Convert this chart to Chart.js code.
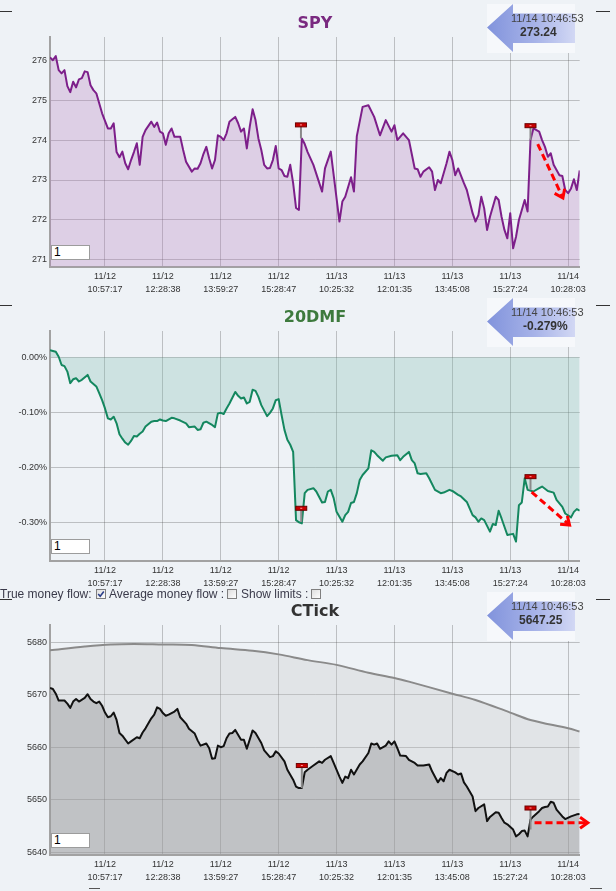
<!DOCTYPE html>
<html><head><meta charset="utf-8">
<script src="https://cdn.jsdelivr.net/npm/chart.js@4.4.1/dist/chart.umd.min.js"></script>
<style>
html,body{margin:0;padding:0;background:#eef2f6;width:616px;height:891px;overflow:hidden;font-family:"Liberation Sans",Arial,sans-serif;}
.panel{position:absolute;left:0;width:616px;height:300px;}
.panel canvas{position:absolute;left:0;top:0;}
.title{position:absolute;left:50px;width:530px;text-align:center;font:bold 16px "DejaVu Sans";line-height:20px;}
.dash{position:absolute;height:1px;background:#333;}
.box1{position:absolute;left:51px;width:39px;height:15px;background:#fff;border:1px solid #9c9c9c;box-sizing:border-box;font:12px "Liberation Sans";line-height:13px;padding-left:2px;color:#000;}
.callout{position:absolute;left:487px;width:88px;height:49px;}
.callout svg{position:absolute;left:0;top:0;}
.c1{position:absolute;left:24px;top:8px;font:11px "Liberation Sans";color:#444;white-space:nowrap;}
.c2{position:absolute;top:21px;font:bold 12px "Liberation Sans";color:#333;white-space:nowrap;}
.opt{position:absolute;top:587px;font:12px "Liberation Sans";line-height:14px;color:#3a3a4a;white-space:nowrap;}
.cb{position:absolute;top:589px;}
</style></head>
<body>
<svg width="0" height="0" style="position:absolute">
<defs>
<linearGradient id="arrowGrad" x1="0" x2="1" y1="0" y2="0">
<stop offset="0" stop-color="#8193dc"/><stop offset="0.55" stop-color="#a7b3e8"/><stop offset="1" stop-color="#d2d8f4"/>
</linearGradient>
<linearGradient id="cbGrad" x1="0" x2="1" y1="0" y2="1">
<stop offset="0" stop-color="#dcdcdc"/><stop offset="1" stop-color="#ffffff"/>
</linearGradient>
</defs></svg>

<div class="panel" style="top:0px">
  <canvas id="c1" width="616" height="300"></canvas>
  <div class="title" style="top:13px;color:#7a2a80">SPY</div>
  <div class="dash" style="left:0;top:11px;width:12px"></div>
  <div class="dash" style="left:596px;top:11px;width:14px"></div>
  <div class="callout" style="top:4px">
    <svg width="88" height="49"><rect width="88" height="49" fill="#f6f8fb"/><polygon points="0,23.5 26,0 26,9.5 88,9.5 88,39 26,39 26,48" fill="url(#arrowGrad)"/></svg>
    <span class="c1">11/14 10:46:53</span><span class="c2" style="left:33px">273.24</span>
  </div>
  <div class="box1" style="top:245px">1</div>
</div>

<div class="panel" style="top:294px">
  <canvas id="c2" width="616" height="300"></canvas>
  <div class="title" style="top:13px;color:#3d7a3d">20DMF</div>
  <div class="dash" style="left:0;top:11px;width:12px"></div>
  <div class="dash" style="left:596px;top:11px;width:14px"></div>
  <div class="callout" style="top:4px">
    <svg width="88" height="49"><rect width="88" height="49" fill="#f6f8fb"/><polygon points="0,23.5 26,0 26,9.5 88,9.5 88,39 26,39 26,48" fill="url(#arrowGrad)"/></svg>
    <span class="c1">11/14 10:46:53</span><span class="c2" style="left:36px">-0.279%</span>
  </div>
  <div class="box1" style="top:245px">1</div>
</div>

<div class="opt" style="left:0px">True money flow:</div>
<svg class="cb" style="left:96px" width="10" height="10"><rect x="0.5" y="0.5" width="9" height="9" fill="url(#cbGrad)" stroke="#7f7f7f"/><path d="M2.2,5 L4.2,7.2 L7.8,2.6" stroke="#2b3f8a" stroke-width="1.6" fill="none"/></svg>
<div class="opt" style="left:109px">Average money flow :</div>
<svg class="cb" style="left:227px" width="10" height="10"><rect x="0.5" y="0.5" width="9" height="9" fill="url(#cbGrad)" stroke="#7f7f7f"/></svg>
<div class="opt" style="left:241px">Show limits :</div>
<svg class="cb" style="left:311px" width="10" height="10"><rect x="0.5" y="0.5" width="9" height="9" fill="url(#cbGrad)" stroke="#7f7f7f"/></svg>

<div class="panel" style="top:588px">
  <canvas id="c3" width="616" height="300"></canvas>
  <div class="title" style="top:13px;color:#333">CTick</div>
  <div class="dash" style="left:0;top:11px;width:12px"></div>
  <div class="dash" style="left:596px;top:11px;width:14px"></div>
  <div class="callout" style="top:4px">
    <svg width="88" height="49"><rect width="88" height="49" fill="#f6f8fb"/><polygon points="0,23.5 26,0 26,9.5 88,9.5 88,39 26,39 26,48" fill="url(#arrowGrad)"/></svg>
    <span class="c1">11/14 10:46:53</span><span class="c2" style="left:32px">5647.25</span>
  </div>
  <div class="box1" style="top:245px">1</div>
</div>
<div class="dash" style="left:89px;top:888px;width:11px;background:#555"></div>
<div class="dash" style="left:590px;top:888px;width:12px;background:#555"></div>

<script>
// ---- shared x axis (bar index) ----
const tickPos   = [19, 39, 59, 79, 99, 119, 139, 159, 179];
const tickDates = ["11/12","11/12","11/12","11/12","11/13","11/13","11/13","11/13","11/14"];
const tickTimes = ["10:57:17","12:28:38","13:59:27","15:28:47","10:25:32","12:01:35","13:45:08","15:27:24","10:28:03"];
const barMax = 183;

// ---- SPY ----
const spyTicks = [271, 272, 273, 274, 275, 276];
const spyPoints = [[0,276.07],[1,276.0],[2,276.1],[3,275.75],[4,275.67],[5,275.75],[6,275.35],[7,275.2],[8,275.46],[9,275.32],[10,275.52],[11,275.55],[12,275.72],[13,275.7],[14,275.37],[15,275.25],[16,275.17],[17,274.92],[18,274.67],[20,274.29],[21,274.29],[22,274.42],[23,273.7],[24,273.57],[25,273.71],[26,273.42],[27,273.27],[28,273.5],[29,273.7],[30,273.92],[31,273.38],[32,274.08],[33,274.25],[35,274.46],[36,274.33],[37,274.44],[38,274.21],[39,274.17],[40,273.88],[41,274.17],[42,274.29],[43,274.08],[45,274.08],[46,273.75],[47,273.46],[49,273.21],[50,273.29],[51,273.28],[52,273.42],[53,273.65],[54,273.83],[55,273.54],[56,273.29],[57,273.5],[58,274.12],[59,274.08],[60,274.0],[61,274.17],[62,274.46],[63,274.52],[64,274.58],[65,274.42],[66,274.21],[67,274.29],[68,273.79],[69,274.33],[70,274.77],[71,274.5],[72,274.04],[73,273.75],[74,273.38],[75,273.29],[76,273.3],[77,273.5],[78,273.85],[79,273.29],[80,273.25],[81,273.1],[82,273.08],[83,273.38],[84,272.92],[85,272.3],[86,272.25],[87,274.04],[88,273.9],[89,273.7],[91,273.38],[94,272.71],[95,273.29],[97,273.71],[100,271.96],[101,272.46],[102,272.58],[104,273.07],[105,272.71],[106,274.1],[108,274.83],[110,274.87],[112,274.58],[114,274.12],[116,274.5],[118,274.21],[119,274.37],[120,274.0],[122,274.17],[124,274.0],[126,273.29],[127,273.27],[128,273.08],[129,273.21],[131,273.32],[132,273.21],[133,272.75],[134,273.0],[135,272.92],[137,273.42],[138,273.71],[139,273.5],[140,273.12],[141,273.29],[143,272.92],[144,272.75],[146,272.17],[147,271.96],[148,272.12],[149,272.58],[150,272.29],[151,271.75],[152,272.08],[154,272.58],[155,272.5],[156,272.08],[157,271.75],[158,271.54],[159,272.17],[160,271.29],[161,271.58],[162,272.0],[164,272.5],[165,272.21],[166,274.0],[167,274.29],[169,274.21],[170,274.0],[171,273.83],[172,273.58],[173,273.67],[174,273.38],[176,273.12],[177,273.1],[178,272.75],[179,272.67],[180,272.79],[181,273.02],[182,272.75],[183,273.24]];
const spyFlags  = [[86.7,274.38,274.04],[166.0,274.36,274.0]];      // bar, flag value, stem foot value
const spyArrow  = [[168.5,273.9,177.2,272.55]];                     // from bar/value to bar/value

// ---- 20DMF (percent) ----
const dmfTicks = [0, -0.1, -0.2, -0.3];
const dmfPoints = [[0,0.013],[2,0.010],[3,0.001],[4,-0.014],[5,-0.016],[6,-0.026],[7,-0.047],[8,-0.040],[9,-0.038],[10,-0.044],[11,-0.041],[13,-0.032],[14,-0.044],[16,-0.053],[17,-0.065],[18,-0.078],[19,-0.093],[20,-0.111],[21,-0.113],[22,-0.108],[23,-0.120],[24,-0.140],[25,-0.148],[26,-0.155],[27,-0.159],[28,-0.152],[29,-0.143],[30,-0.144],[31,-0.139],[32,-0.135],[33,-0.126],[35,-0.117],[36,-0.116],[37,-0.116],[38,-0.113],[39,-0.115],[40,-0.116],[42,-0.110],[43,-0.111],[45,-0.115],[47,-0.120],[48,-0.127],[50,-0.126],[51,-0.132],[52,-0.131],[53,-0.119],[54,-0.117],[56,-0.123],[57,-0.127],[58,-0.102],[59,-0.101],[60,-0.103],[61,-0.093],[62,-0.084],[64,-0.063],[65,-0.070],[66,-0.075],[67,-0.073],[68,-0.084],[69,-0.081],[70,-0.059],[71,-0.061],[72,-0.072],[73,-0.087],[75,-0.107],[76,-0.101],[77,-0.093],[78,-0.078],[79,-0.076],[80,-0.105],[81,-0.132],[82,-0.150],[83,-0.159],[84,-0.172],[85,-0.296],[86,-0.300],[87,-0.302],[88,-0.247],[89,-0.241],[91,-0.238],[92,-0.244],[94,-0.264],[95,-0.263],[96,-0.244],[97,-0.241],[98,-0.256],[99,-0.281],[101,-0.299],[102,-0.287],[103,-0.281],[104,-0.265],[105,-0.263],[106,-0.247],[107,-0.223],[108,-0.214],[110,-0.202],[111,-0.169],[112,-0.172],[113,-0.178],[115,-0.188],[116,-0.182],[118,-0.179],[120,-0.178],[121,-0.187],[122,-0.181],[124,-0.172],[125,-0.187],[126,-0.193],[127,-0.211],[128,-0.212],[130,-0.211],[131,-0.220],[133,-0.241],[135,-0.247],[136,-0.246],[138,-0.241],[139,-0.243],[141,-0.250],[142,-0.253],[144,-0.263],[146,-0.287],[147,-0.291],[148,-0.299],[149,-0.293],[150,-0.296],[152,-0.317],[153,-0.303],[154,-0.305],[155,-0.279],[156,-0.293],[158,-0.323],[160,-0.321],[161,-0.335],[162,-0.269],[163,-0.264],[164,-0.220],[165,-0.241],[167,-0.244],[169,-0.238],[170,-0.235],[172,-0.243],[174,-0.246],[175,-0.259],[177,-0.272],[178,-0.284],[180,-0.291],[181,-0.281],[182,-0.276],[183,-0.279]];
const dmfFlags = [[86.8,-0.2745,-0.2995],[166.0,-0.217,-0.241]];
const dmfArrow = [[166.4,-0.245,179.5,-0.305]];

// ---- CTick ----
const ctTicks = [5640, 5650, 5660, 5670, 5680];
const ctPoints = [[0,5671.3],[1,5671.1],[2,5670.2],[3,5668.9],[5,5668.9],[6,5668.3],[7,5667.5],[8,5668.7],[9,5669.2],[10,5668.7],[12,5669.4],[13,5670.1],[14,5669.2],[15,5668.7],[16,5668.4],[17,5668.7],[18,5667.9],[19,5666.6],[20,5665.7],[21,5665.9],[22,5666.6],[23,5665.2],[24,5662.7],[25,5662.2],[27,5660.7],[28,5661.1],[30,5661.9],[31,5661.7],[32,5662.8],[33,5663.6],[35,5665.5],[36,5666.2],[37,5667.6],[38,5667.3],[39,5666.5],[40,5666.0],[41,5666.2],[43,5666.8],[44,5667.3],[45,5665.7],[47,5664.5],[48,5663.5],[50,5662.6],[51,5661.3],[52,5660.3],[54,5660.7],[55,5659.8],[56,5657.8],[57,5657.9],[58,5660.3],[59,5660.0],[60,5660.2],[61,5661.7],[62,5662.6],[63,5662.7],[64,5663.3],[66,5661.4],[67,5661.4],[68,5659.7],[70,5663.2],[71,5662.7],[73,5660.8],[74,5659.4],[76,5658.1],[77,5658.3],[78,5659.2],[79,5658.8],[81,5657.3],[82,5655.7],[84,5653.8],[85,5652.5],[86,5652.2],[87,5652.2],[88,5655.2],[89,5655.7],[91,5656.5],[93,5657.3],[94,5657.0],[95,5657.6],[97,5658.3],[98,5657.0],[100,5654.4],[101,5653.2],[102,5654.4],[103,5654.1],[104,5655.7],[105,5654.8],[107,5656.7],[108,5657.3],[110,5658.9],[111,5660.7],[112,5660.5],[113,5660.7],[114,5659.7],[116,5660.3],[117,5661.1],[118,5660.5],[119,5661.1],[120,5659.8],[121,5658.4],[123,5658.3],[124,5657.6],[126,5657.0],[127,5656.5],[129,5656.5],[131,5656.7],[132,5655.4],[134,5653.3],[135,5654.1],[136,5653.5],[137,5655.1],[138,5655.7],[140,5655.2],[141,5654.8],[142,5655.0],[143,5653.3],[144,5652.5],[146,5650.6],[147,5647.8],[148,5648.4],[150,5649.1],[151,5645.9],[152,5646.7],[154,5647.6],[155,5647.5],[156,5646.5],[157,5645.6],[158,5645.3],[160,5644.3],[161,5643.0],[162,5643.4],[163,5644.0],[164,5644.1],[165,5643.0],[166,5646.2],[167,5646.8],[169,5647.8],[170,5648.4],[171,5648.6],[172,5648.7],[173,5649.6],[174,5649.4],[175,5648.1],[177,5646.8],[178,5646.3],[180,5646.8],[182,5647.2],[183,5647.25]];
const ctAvgPoints = [[0,5678.5],[12,5679.2],[21,5679.6],[29,5679.7],[39,5679.6],[49,5679.5],[59,5678.9],[70,5678.4],[79,5677.7],[89,5676.6],[99,5675.7],[110,5674.2],[119,5673.2],[124,5672.5],[139,5670.2],[147,5669.0],[159,5666.6],[166,5665.2],[179,5663.6],[183,5663.0]];
const ctFlags = [[87.0,5656.5,5652.2],[166.0,5648.4,5644.3]];
const ctArrow = [[167.4,5645.6,185.8,5645.6]];

const toXY = pts => pts.map(p => ({x: p[0], y: p[1]}));

function marksPlugin(flags, arrows) {
  return {
    id: 'marks',
    afterDatasetsDraw(chart) {
      const ctx = chart.ctx, xs = chart.scales.x, ys = chart.scales.y;
      ctx.save();
      flags.forEach(f => {
        const px = xs.getPixelForValue(f[0]), pt = ys.getPixelForValue(f[1]), pb = ys.getPixelForValue(f[2]);
        ctx.strokeStyle = '#8a8a8a'; ctx.lineWidth = 2;
        ctx.beginPath(); ctx.moveTo(px, pt); ctx.lineTo(px, pb); ctx.stroke();
        ctx.fillStyle = '#c80000'; ctx.fillRect(px - 5.5, pt - 2, 11, 4);
        ctx.strokeStyle = '#6e0000'; ctx.lineWidth = 1; ctx.strokeRect(px - 5.5, pt - 2, 11, 4);
        ctx.fillStyle = '#ff9a9a'; ctx.fillRect(px - 1, pt - 0.5, 2, 1);
      });
      arrows.forEach(a => {
        const x1 = xs.getPixelForValue(a[0]), y1 = ys.getPixelForValue(a[1]);
        const x2 = xs.getPixelForValue(a[2]), y2 = ys.getPixelForValue(a[3]);
        const ang = Math.atan2(y2 - y1, x2 - x1), L = 9.5, w = 0.62;
        ctx.strokeStyle = '#ff0000'; ctx.lineWidth = 3; ctx.lineCap = 'butt';
        ctx.setLineDash([7, 4]);
        ctx.beginPath(); ctx.moveTo(x1, y1); ctx.lineTo(x2 - 2 * Math.cos(ang), y2 - 2 * Math.sin(ang)); ctx.stroke();
        ctx.setLineDash([]);
        ctx.lineJoin = 'miter';
        ctx.beginPath();
        ctx.moveTo(x2 - L * Math.cos(ang - w), y2 - L * Math.sin(ang - w));
        ctx.lineTo(x2, y2);
        ctx.lineTo(x2 - L * Math.cos(ang + w), y2 - L * Math.sin(ang + w));
        ctx.stroke();
      });
      ctx.restore();
    }
  };
}

const tickFont = {family: 'Liberation Sans', size: 9, lineHeight: 1.45};
const gridCol = 'rgba(60,60,60,0.28)';

function makeChart(id, datasets, yMin, yMax, yTicks, yFmt, flags, arrows) {
  return new Chart(document.getElementById(id), {
    type: 'line',
    data: {datasets},
    options: {
      responsive: false, animation: false,
      layout: {padding: {top: 37, right: 36.3, left: 0, bottom: 0}},
      plugins: {legend: {display: false}, tooltip: {enabled: false}, title: {display: false}},
      elements: {point: {radius: 0}, line: {tension: 0, borderJoinStyle: 'round'}},
      scales: {
        x: {
          type: 'linear', min: 0, max: barMax,
          afterBuildTicks: s => { s.ticks = tickPos.map(v => ({value: v})); },
          afterFit: s => { s.height = 33.3; },
          grid: {color: gridCol, lineWidth: 1, drawTicks: false},
          border: {display: true, color: '#a2a2a2', width: 2},
          ticks: {autoSkip: false, maxRotation: 0, padding: 3, color: '#333', font: tickFont,
                  callback: (v, i) => [tickDates[i], tickTimes[i]]}
        },
        y: {
          type: 'linear', min: yMin, max: yMax,
          afterBuildTicks: s => { s.ticks = yTicks.map(v => ({value: v})); },
          afterFit: s => { s.width = 50; },
          grid: {color: gridCol, lineWidth: 1, drawTicks: false},
          border: {display: true, color: '#a2a2a2', width: 2},
          ticks: {padding: 3, color: '#333', font: tickFont, callback: yFmt}
        }
      }
    },
    plugins: [marksPlugin(flags, arrows)]
  });
}

makeChart('c1', [{
  data: toXY(spyPoints), borderColor: '#7d1f8a', borderWidth: 2,
  fill: 'start', backgroundColor: 'rgba(182,126,190,0.30)'
}], 270.83, 276.58, spyTicks, v => String(v), spyFlags, spyArrow);

makeChart('c2', [{
  data: toXY(dmfPoints), borderColor: '#14875f', borderWidth: 2,
  fill: 'origin', backgroundColor: 'rgba(129,190,177,0.30)'
}], -0.3698, 0.0478, dmfTicks, v => v.toFixed(2) + '%', dmfFlags, dmfArrow);

makeChart('c3', [{
  data: toXY(ctPoints), borderColor: '#111111', borderWidth: 2, order: 1,
  fill: 'start', backgroundColor: 'rgba(131,132,135,0.35)'
}, {
  data: toXY(ctAvgPoints), borderColor: '#8a8a8a', borderWidth: 2, order: 2, tension: 0.35,
  fill: 'start', backgroundColor: 'rgba(196,196,197,0.30)'
}], 5639.5, 5683.3, ctTicks, v => String(v), ctFlags, ctArrow);
</script>
</body></html>
